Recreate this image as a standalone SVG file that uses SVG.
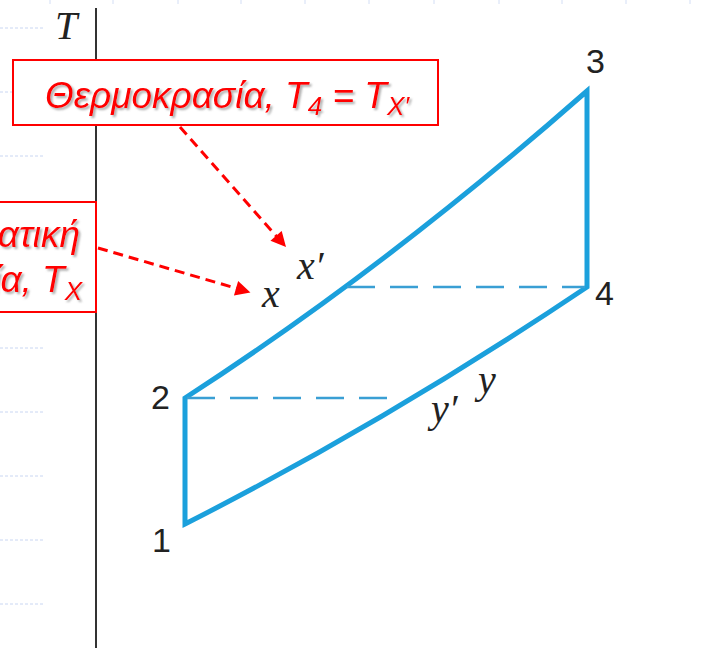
<svg xmlns="http://www.w3.org/2000/svg" width="724" height="648" viewBox="0 0 724 648">
<style>
.bg{stroke:#c9d6f2;stroke-width:1;stroke-dasharray:3 2;fill:none}
.tick{stroke:#d3def5;stroke-width:1;fill:none}
.axis{stroke:#333;stroke-width:2;fill:none}
.cyc{stroke:#1ba0dc;stroke-width:5;fill:none;stroke-linejoin:miter}
.dash{stroke:#3a9fd4;stroke-width:2.5;fill:none;stroke-dasharray:28 15}
.num{font-family:"Liberation Sans",Arial,sans-serif;font-size:34px;fill:#222}
.var{font-family:"Liberation Serif","Times New Roman",serif;font-style:italic;font-size:40px;fill:#222}
.box{fill:#fff;stroke:#f00;stroke-width:2}
.lbl{font-family:"Liberation Sans",Arial,sans-serif;font-style:italic;font-size:37px;fill:#f00}
.arr{stroke:#f00;stroke-width:3;stroke-dasharray:10 6;fill:none}
</style>
<defs>
<marker id="ah2" viewBox="0 0 10 10" refX="9" refY="5" markerWidth="17" markerHeight="15" orient="auto" markerUnits="userSpaceOnUse">
<path d="M0,0 L10,5 L0,10 z" fill="#f00"/>
</marker>
<filter id="sh" x="-5%" y="-20%" width="110%" height="140%">
<feDropShadow dx="2" dy="2" stdDeviation="1" flood-color="#777" flood-opacity="0.6"/>
</filter>
</defs>
<rect width="724" height="648" fill="#fff"/>
<g id="background">
<path class="bg" d="M0 28H44M0 92H44M0 156H44M0 220H44M0 284H44M0 348H44M0 412H44M0 476H44M0 540H44M0 604H44"/>
<path class="tick" d="M50 0V4M113 0V4M178 0V4M241 0V4M305 0V4M369 0V4M434 0V4M499 0V4M562 0V4M626 0V4M690 0V4"/>
</g>
<g id="axis">
<line class="axis" x1="96" y1="8" x2="96" y2="648"/>
<text class="var" x="55" y="39">T</text>
</g>
<g id="cycle">
<path class="cyc" d="M185 524 L185 398 Q386 268 587 91 L587 287 Q386 422 185 524 Z"/>
<path class="dash" d="M187 398 H402"/>
<path class="dash" d="M347 287 H585"/>
</g>
<g id="state-1"><text class="num" x="152" y="552">1</text></g>
<g id="state-2"><text class="num" x="151" y="409">2</text></g>
<g id="state-3"><text class="num" x="586" y="73">3</text></g>
<g id="state-4"><text class="num" x="595" y="305">4</text></g>
<g id="points">
<text class="var" x="262" y="307">x</text>
<text class="var" x="297" y="279">x′</text>
<text class="var" x="478" y="393">y</text>
<text class="var" x="431" y="422">y′</text>
</g>
<g id="label-top">
<rect class="box" x="13" y="60" width="425" height="65"/>
<text class="lbl" x="45" y="108" filter="url(#sh)">Θερμοκρασία, T<tspan font-size="26" dy="7">4</tspan><tspan dy="-7"> = T</tspan><tspan font-size="26" dy="7">X′</tspan></text>
</g>
<g id="label-left">
<rect class="box" x="-2" y="202" width="98" height="110"/>
<text class="lbl" x="80" y="247" text-anchor="end" filter="url(#sh)">ατική</text>
<text class="lbl" x="82" y="292" text-anchor="end" filter="url(#sh)">ία, T<tspan font-size="26" dy="8">X</tspan></text>
</g>
<g id="connectors">
<line class="arr" x1="180" y1="127" x2="285" y2="246" marker-end="url(#ah2)"/>
<line class="arr" x1="98" y1="248" x2="249" y2="292" marker-end="url(#ah2)"/>
</g>
</svg>
